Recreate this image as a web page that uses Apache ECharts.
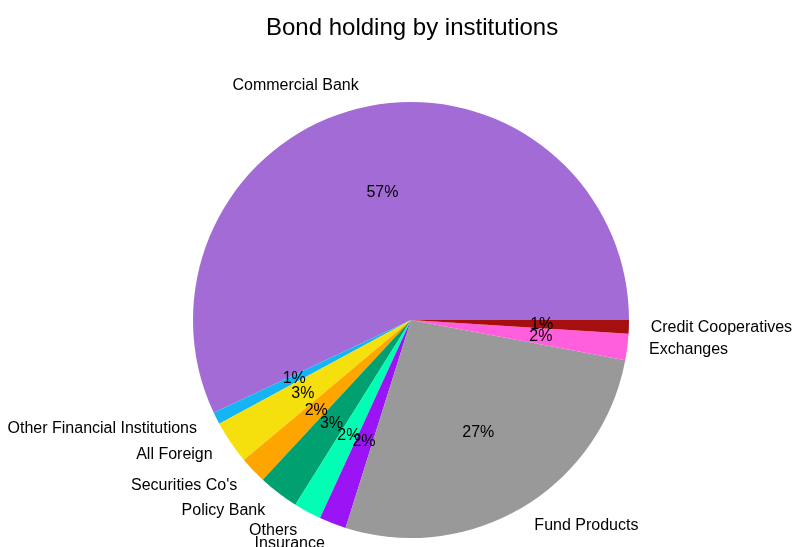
<!DOCTYPE html>
<html>
<head>
<meta charset="utf-8">
<script src="https://cdn.jsdelivr.net/npm/echarts@6/dist/echarts.min.js"></script>
<style>
html,body{margin:0;padding:0;background:#fff;}
#chart{width:794px;height:547px;}
</style>
</head>
<body>
<div id="chart"></div>
<script>
const categories = ["Commercial Bank", "Other Financial Institutions", "All Foreign", "Securities Co's", "Policy Bank", "Others", "Insurance", "Fund Products", "Exchanges", "Credit Cooperatives"];
const shares = [57.0, 0.9, 3.2, 2.0, 3.0, 2.05, 2.0, 26.9, 1.95, 1.0];
const colors = ["#a36bd6", "#14b4f5", "#f5df0d", "#ffa500", "#00a070", "#00ffb4", "#9b14f5", "#999999", "#ff5edc", "#a50f0f"];
const titleText = "Bond holding by institutions";

const FONT = "'Liberation Sans', Arial, Helvetica, sans-serif";
const R = 218;
const CENTER = [411, 320];

const chart = echarts.init(document.getElementById('chart'), null, {renderer: 'canvas'});
const baseData = categories.map((c, i) => ({name: c, value: shares[i], itemStyle: {color: colors[i]}}));
const pctData = categories.map((c, i) => ({name: c, value: shares[i]}));

chart.setOption({
  backgroundColor: '#ffffff',
  animation: false,
  title: {
    text: titleText,
    left: 261,
    top: 11,
    textStyle: {fontFamily: FONT, fontSize: 24, fontWeight: 'normal', color: '#000'}
  },
  series: [
    {
      type: 'pie',
      center: CENTER,
      radius: [0, R],
      startAngle: 0,
      clockwise: false,
      avoidLabelOverlap: false,
      silent: true,
      data: baseData,
      itemStyle: {borderWidth: 0},
      label: {
        show: true,
        position: 'outside',
        formatter: '{b}',
        fontFamily: FONT,
        fontSize: 16,
        color: '#000',
        distanceToLabelLine: 0,
        overflow: 'none'
      },
      labelLayout: {hideOverlap: false},
      labelLine: {show: false, length: R * 0.1, length2: 0},
      emphasis: {disabled: true}
    },
    {
      type: 'pie',
      center: CENTER,
      radius: [R * 0.2 - 6, R],
      startAngle: 0,
      clockwise: false,
      avoidLabelOverlap: false,
      silent: true,
      data: pctData,
      itemStyle: {color: 'rgba(0,0,0,0)', borderWidth: 0},
      label: {
        show: true,
        position: 'inside',
        formatter: p => Math.round(p.percent) + '%',
        fontFamily: FONT,
        fontSize: 16,
        color: '#000'
      },
      labelLayout: {hideOverlap: false},
      labelLine: {show: false},
      emphasis: {disabled: true}
    }
  ]
});
</script>
</body>
</html>
